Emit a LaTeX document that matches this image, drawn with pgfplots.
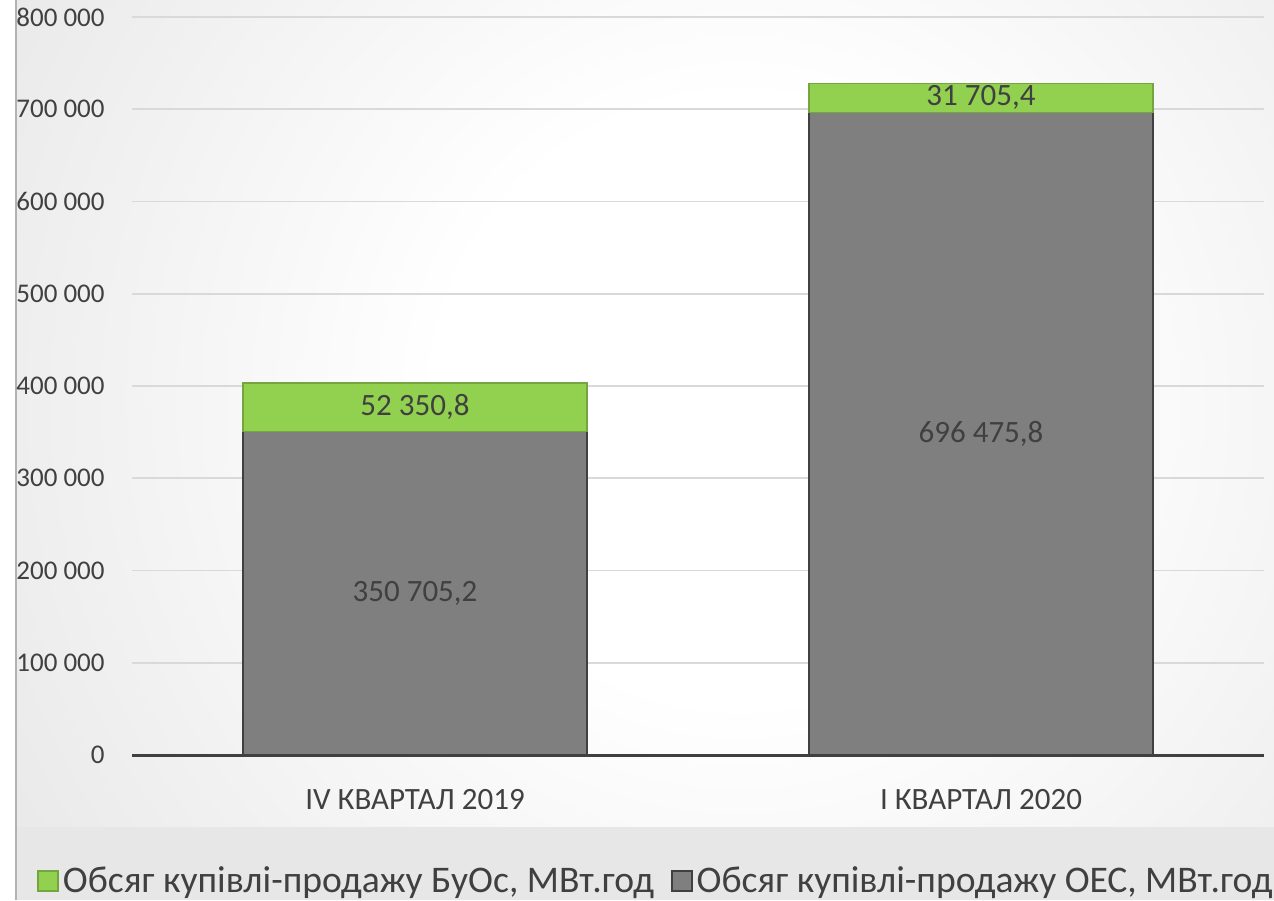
\documentclass[border=0pt]{standalone}
\usepackage{pgfplots}
\pgfplotsset{compat=1.18}
\usepackage{fontspec}
\setmainfont{Carlito}
\definecolor{txt}{HTML}{404040}
\definecolor{grayfill}{HTML}{7F7F7F}
\definecolor{grayline}{HTML}{404040}
\definecolor{greenfill}{HTML}{92D050}
\definecolor{greenline}{HTML}{74A53E}
\definecolor{gridc}{HTML}{D9D9D9}
\definecolor{legbg}{HTML}{E7E7E7}
\definecolor{bgedge}{HTML}{C9C9C9}
\pgfdeclareradialshading{bgshade}{\pgfpoint{0bp}{0bp}}{color(0bp)=(white); color(8bp)=(white); color(44bp)=(bgedge); color(50bp)=(bgedge)}
\begin{document}
\begin{tikzpicture}
\useasboundingbox (-66pt,-72.5pt) rectangle (571pt,377.5pt);
\fill[white] (-66pt,-72.5pt) rectangle (571pt,377.5pt);
\fill[legbg] (-58pt,-72.5pt) rectangle (571pt,-35.5pt);
\begin{scope}
\clip (-58pt,-35.5pt) rectangle (571pt,377.5pt);
\fill[bgedge] (-58pt,-35.5pt) rectangle (571pt,377.5pt);
\shade[shading=bgshade] (304pt,177.5pt) circle (470pt);
\end{scope}
\draw[gray!60, line width=0.75pt] (-58pt,-72.5pt) -- (-58pt,377.5pt);
\begin{axis}[
  scale only axis, width=566pt, height=369pt,
  xmin=-0.5, xmax=1.5, ymin=0, ymax=800000,
  axis x line*=bottom, axis y line*=left,
  y axis line style={draw=none},
  x axis line style={draw=txt, line width=1.5pt, -},
  major tick length=0pt,
  xtick={0,1},
  xticklabels={IV КВАРТАЛ 2019, I КВАРТАЛ 2020},
  ytick={0,100000,200000,300000,400000,500000,600000,700000,800000},
  yticklabels={0,100 000,200 000,300 000,400 000,500 000,600 000,700 000,800 000},
  /pgf/number format/assume math mode=true,
  tick label style={text=txt},
  yticklabel style={font=\fontsize{13.5}{16}\selectfont, anchor=east, inner sep=0pt, xshift=-13.5pt},
  xticklabel style={font=\fontsize{15.5}{18}\selectfont, anchor=center, inner sep=0pt, yshift=-22.5pt},
  ymajorgrids, grid style={gridc, line width=0.9pt},
  legend style={at={(-0.0839,-0.1707)}, anchor=west, draw=none, fill=none, legend columns=2,
    font=\fontsize{18.8}{22}\selectfont, text=txt, inner sep=0pt,
    /tikz/every even column/.append style={column sep=6.5pt}},
  legend cell align=left, reverse legend,
  legend image code/.code={\draw[#1, line width=0.75pt] (0pt,-5pt) rectangle (10pt,5pt);},
]
\addplot[ybar, bar width=172pt, bar shift=0pt, stack plots=y, fill=grayfill, draw=grayline, line width=0.75pt]
  coordinates {(0,350705.2) (1,696475.8)};
\addlegendentry{Обсяг купівлі-продажу ОЕС, МВт.год}
\addplot[ybar, bar width=172pt, bar shift=0pt, stack plots=y, fill=greenfill, draw=greenline, line width=0.75pt]
  coordinates {(0,52350.8) (1,31705.4)};
\addlegendentry{Обсяг купівлі-продажу БуОс, МВт.год}
\addplot[stack plots=false, draw=none, mark=none, forget plot, nodes near coords, point meta=explicit symbolic,
  nodes near coords style={anchor=center, text=txt, font=\fontsize{15.5}{18}\selectfont}]
  coordinates {(0,175352.6)[350 705,2] (1,348237.9)[696 475,8] (0,376880.6)[52 350,8] (1,712328.5)[31 705,4]};
\end{axis}
\end{tikzpicture}
\end{document}
